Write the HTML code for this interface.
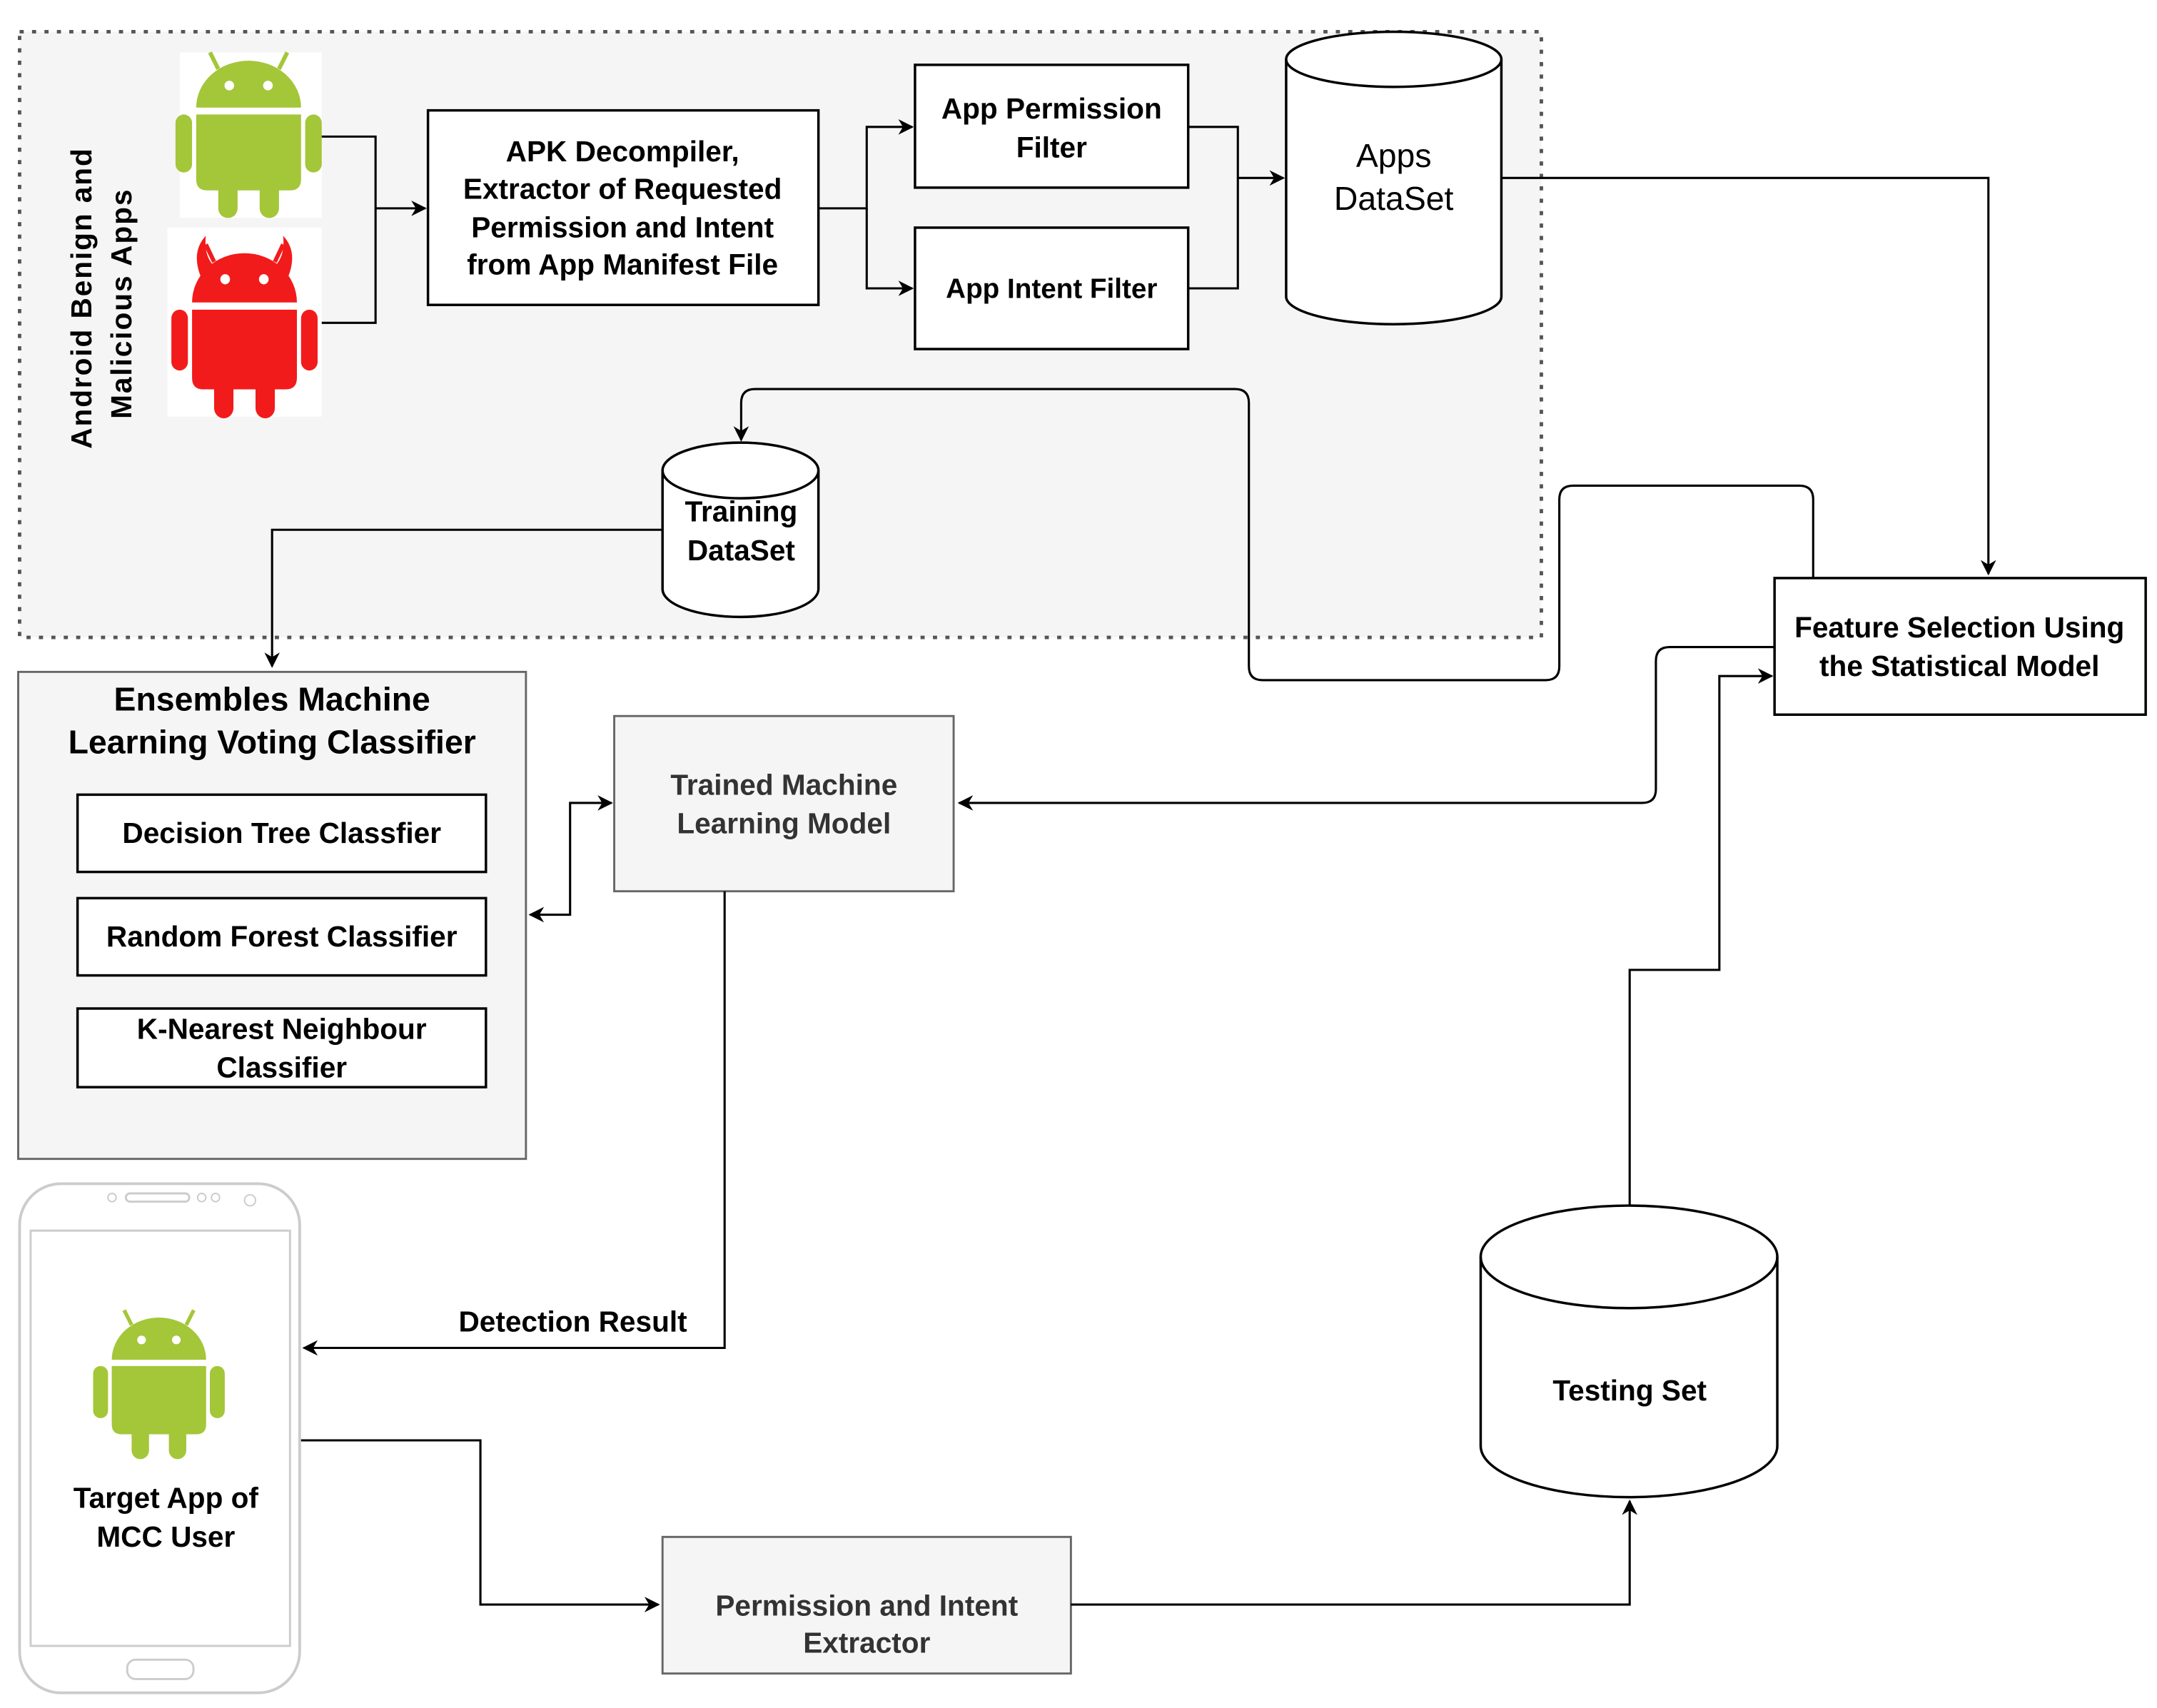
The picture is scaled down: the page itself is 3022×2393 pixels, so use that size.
<!DOCTYPE html>
<html><head><meta charset="utf-8"><style>
html,body{margin:0;padding:0;background:#fff}
svg{display:block}
text{font-family:"Liberation Sans",Arial,sans-serif;}
.b{font-weight:bold;font-size:21px;fill:#000;text-anchor:middle}
.g{font-weight:bold;font-size:21px;fill:#333;text-anchor:middle}
.l{fill:none;stroke:#000;stroke-width:1.6}
</style></head><body>
<svg width="3022" height="2393" viewBox="0 0 1563 1238" xmlns="http://www.w3.org/2000/svg">
<defs>
<marker id="a" viewBox="0 0 10 10" refX="9" refY="5" markerWidth="7" markerHeight="7" orient="auto-start-reverse"><path d="M0,0 L10,5 L0,10 L3,5 z" fill="#000"/></marker>
<g id="droid">
<path d="M-22,-44 L-28,-56 M22,-44 L28,-56" stroke="currentColor" stroke-width="3"/>
<path d="M-38,-16 A38,34 0 0 1 38,-16 Z" fill="currentColor"/>
<circle cx="-14" cy="-32" r="3.5" fill="#fff"/><circle cx="14" cy="-32" r="3.5" fill="#fff"/>
<path d="M-38,-11 H38 V36 Q38,44 30,44 H-30 Q-38,44 -38,36 Z" fill="currentColor"/>
<rect x="-53" y="-11" width="12" height="42" rx="6" fill="currentColor"/>
<rect x="41" y="-11" width="12" height="42" rx="6" fill="currentColor"/>
<rect x="-22" y="30" width="14" height="34" rx="7" fill="currentColor"/>
<rect x="8" y="30" width="14" height="34" rx="7" fill="currentColor"/>
</g>
</defs>
<!-- dashed region -->
<rect x="14" y="23" width="1103" height="439" fill="#f5f5f5" stroke="#555" stroke-width="2.5" stroke-dasharray="3,6"/>
<rect x="130" y="38" width="103" height="120" fill="#fff"/>
<rect x="121" y="165" width="112" height="137" fill="#fff"/>
<use href="#droid" x="180" y="94" style="color:#a4c639"/>
<g style="color:#f21b1b" transform="translate(177,236) scale(1,1.05)">
<use href="#droid"/>
<path d="M-30,-30 Q-40,-50 -28,-62 Q-30,-45 -18,-38 Z M30,-30 Q40,-50 28,-62 Q30,-45 18,-38 Z" fill="#f21b1b"/>
</g>
<text transform="translate(66,216) rotate(-90)" style="font-size:21px;font-weight:bold;letter-spacing:1px" text-anchor="middle">Android Benign and</text>
<text transform="translate(95,220) rotate(-90)" style="font-size:21px;font-weight:bold;letter-spacing:1px" text-anchor="middle">Malicious  Apps</text>
<path class="l" d="M233,99 H272 V234 H233"/>
<path class="l" d="M272,151 H308" marker-end="url(#a)"/>
<rect x="310" y="80" width="283" height="141" fill="#fff" stroke="#000" stroke-width="1.8"/>
<text class="b" x="451" y="117">APK Decompiler,</text>
<text class="b" x="451" y="144">Extractor of Requested</text>
<text class="b" x="451" y="172">Permission and Intent</text>
<text class="b" x="451" y="199">from App Manifest File</text>
<path class="l" d="M593,151 H628 V92 H661" marker-end="url(#a)"/>
<path class="l" d="M628,151 V209 H661" marker-end="url(#a)"/>
<rect x="663" y="47" width="198" height="89" fill="#fff" stroke="#000" stroke-width="1.8"/>
<text class="b" x="762" y="86">App Permission</text>
<text class="b" x="762" y="114">Filter</text>
<rect x="663" y="165" width="198" height="88" fill="#fff" stroke="#000" stroke-width="1.8"/>
<text class="b" x="762" y="216" style="font-size:20px">App Intent Filter</text>
<path class="l" d="M861,92 H897 V209 H861"/>
<path class="l" d="M897,129 H930" marker-end="url(#a)"/>
<path d="M932,43 V215 A78,20 0 0 0 1088,215 V43 A78,20 0 0 0 932,43 Z" fill="#fff" stroke="#000" stroke-width="1.8"/>
<path d="M932,43 A78,20 0 0 0 1088,43" fill="none" stroke="#000" stroke-width="1.8"/>
<text x="1010" y="121" text-anchor="middle" style="font-size:24px">Apps</text>
<text x="1010" y="152" text-anchor="middle" style="font-size:24px">DataSet</text>
<path class="l" d="M1088,129 H1441 V416" marker-end="url(#a)"/>
<rect x="1286" y="419" width="269" height="99" fill="#fff" stroke="#000" stroke-width="1.8"/>
<text class="b" x="1420" y="462">Feature Selection Using</text>
<text class="b" x="1420" y="490">the Statistical Model</text>
<path class="l" d="M1314,419 V362 Q1314,352 1304,352 H1140 Q1130,352 1130,362 V483 Q1130,493 1120,493 H915 Q905,493 905,483 V292 Q905,282 895,282 H547 Q537,282 537,292 V319" marker-end="url(#a)"/>
<path d="M480,341 V427 A56,20 0 0 0 593,427 V341 A56,20 0 0 0 480,341 Z" fill="#fff" stroke="#000" stroke-width="1.8"/>
<path d="M480,341 A56,20 0 0 0 593,341" fill="none" stroke="#000" stroke-width="1.8"/>
<text class="b" x="537" y="378">Training</text>
<text class="b" x="537" y="406">DataSet</text>
<path class="l" d="M480,384 H197 V483" marker-end="url(#a)"/>
<rect x="13" y="487" width="368" height="353" fill="#f5f5f5" stroke="#666" stroke-width="1.5"/>
<text class="b" x="197" y="515" style="font-size:24px">Ensembles Machine</text>
<text class="b" x="197" y="546" style="font-size:24px">Learning Voting Classifier</text>
<rect x="56" y="576" width="296" height="56" fill="#fff" stroke="#000" stroke-width="1.8"/>
<text class="b" x="204" y="611">Decision Tree Classfier</text>
<rect x="56" y="651" width="296" height="56" fill="#fff" stroke="#000" stroke-width="1.8"/>
<text class="b" x="204" y="686">Random Forest Classifier</text>
<rect x="56" y="731" width="296" height="57" fill="#fff" stroke="#000" stroke-width="1.8"/>
<text class="b" x="204" y="753">K-Nearest Neighbour</text>
<text class="b" x="204" y="781">Classifier</text>
<rect x="445" y="519" width="246" height="127" fill="#f5f5f5" stroke="#666" stroke-width="1.5"/>
<text class="g" x="568" y="576">Trained Machine</text>
<text class="g" x="568" y="604">Learning Model</text>
<path class="l" d="M443,582 H413 V663 H384" marker-start="url(#a)" marker-end="url(#a)"/>
<path class="l" d="M1286,469 H1210 Q1200,469 1200,479 V572 Q1200,582 1190,582 H695" marker-end="url(#a)"/>
<path class="l" d="M525,646 V977 H220" marker-end="url(#a)"/>
<text class="b" x="415" y="965">Detection Result</text>
<!-- phone -->
<rect x="14" y="858" width="203" height="369" rx="30" fill="#fff" stroke="#ccc" stroke-width="2"/>
<rect x="22" y="892" width="188" height="301" fill="#fff" stroke="#ccc" stroke-width="1.5"/>
<rect x="91" y="865" width="46" height="6" rx="3" fill="none" stroke="#ccc" stroke-width="1.5"/>
<circle cx="81" cy="868" r="3" fill="none" stroke="#ccc"/><circle cx="146" cy="868" r="3" fill="none" stroke="#ccc"/><circle cx="156" cy="868" r="3" fill="none" stroke="#ccc"/><circle cx="181" cy="870" r="4" fill="none" stroke="#ccc"/>
<rect x="92" y="1203" width="48" height="14" rx="6" fill="none" stroke="#ccc" stroke-width="1.5"/>
<use href="#droid" x="115" y="1000" style="color:#a4c639" transform="translate(115,1000) scale(0.9) translate(-115,-1000)"/>
<text class="b" x="120" y="1093">Target App of</text>
<text class="b" x="120" y="1121">MCC User</text>
<path class="l" d="M218,1044 H348 V1163 H477" marker-end="url(#a)"/>
<rect x="480" y="1114" width="296" height="99" fill="#f5f5f5" stroke="#666" stroke-width="1.5"/>
<text class="g" x="628" y="1171">Permission and Intent</text>
<text class="g" x="628" y="1198">Extractor</text>
<path class="l" d="M776,1163 H1181 V1088" marker-end="url(#a)"/>
<path d="M1073,911 V1048 A107,37 0 0 0 1288,1048 V911 A107,37 0 0 0 1073,911 Z" fill="#fff" stroke="#000" stroke-width="1.8"/>
<path d="M1073,911 A107,37 0 0 0 1288,911" fill="none" stroke="#000" stroke-width="1.8"/>
<text class="b" x="1181" y="1015">Testing Set</text>
<path class="l" d="M1181,874 V703 H1246 V490 H1284" marker-end="url(#a)"/>
</svg>
</body></html>
